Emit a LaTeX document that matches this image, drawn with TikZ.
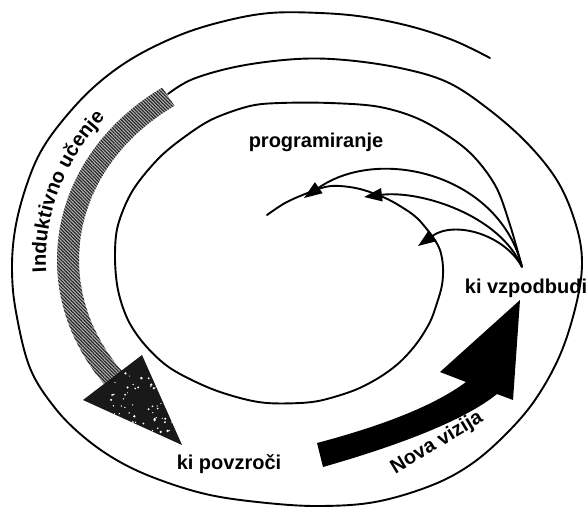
\documentclass[tikz,border=0pt]{standalone}
\usepackage{fontspec}
\newfontfamily\lab{Liberation Sans}
\usetikzlibrary{arrows.meta,patterns.meta,decorations.text}

\begin{document}
\begin{tikzpicture}[x=1pt,y=-1pt,
  ring/.style={line width=1.9pt, line cap=round, line join=round},
  txt/.style={font={\lab\bfseries\fontsize{20}{24}\selectfont}, inner sep=0pt},
  feed/.style={line width=1.9pt, -{Triangle[length=18pt,width=13pt]}},
]
\useasboundingbox (0,0) rectangle (588,511);
\fill[white] (0,0) rectangle (588,511);

% outer spiral: one and a quarter turns, ending where the hatched band begins
\draw[ring] plot[smooth, tension=0.6] coordinates {
  (490,58) (455,41) (413,27) (365,17) (320,13) (270,13) (225,21) (180,35)
  (133,58) (95,86) (63,120) (40,153) (25,190) (15,230) (12,270) (16,312)
  (30,368) (55,408) (85,438) (120,462) (160,480) (210,495) (267,503)
  (320,506) (375,502) (430,486) (470,465) (505,435) (535,400) (560,355)
  (576,305) (582,263) (576,225) (558,182) (527,143) (487,108) (447,82)
  (400,68) (345,60) (297,59) (240,66) (193,79) (168,94)};

% hatched band (inductive learning)
\path[preaction={fill=gray!55}, pattern={Lines[angle=-45,distance=2.4pt,line width=1.2pt]}, pattern color=black!85]
  plot[domain=0:1, samples=50, variable=\s] ({296+239*cos(124+96*\s)},{260-208*sin(124+96*\s)})
  -- plot[domain=0:1, samples=50, variable=\s] ({296+217*cos(220-96*\s)},{260-186*sin(220-96*\s)})
  -- cycle;

% speckled head of the hatched band
\fill[black!90] (83,400) -- (142,355) -- (182,445) -- cycle;
\begin{scope}
  \clip (83,400) -- (142,355) -- (182,445) -- cycle;
  \pgfmathsetseed{11}
  \foreach \i in {1,...,80}{
    \pgfmathsetmacro\px{110+75*rnd}
    \pgfmathsetmacro\py{370+75*rnd}
    \pgfmathsetmacro\pr{0.5+0.9*rnd}
    \fill[white] (\px,\py) circle[radius=\pr];
  }
\end{scope}

% solid arrow (new vision)
\fill[black] (317,443) .. controls (385,425) and (435,405) .. (466,382)
  -- (440,372) -- (520,300) -- (513,400) -- (497,394)
  .. controls (465,420) and (400,445) .. (323,467) -- cycle;

% inner spiral, starting at the hub
\coordinate (hub) at (522,267);
\draw[ring] plot[smooth, tension=0.55] coordinates {
  (hub) (510,225) (495,185) (467,150) (423,121) (380,107) (330,103)
  (280,103) (250,106) (215,118) (190,133) (160,157) (133,190) (118,225)
  (115,257) (118,290) (128,320) (145,345) (170,368) (207,387) (240,398)
  (267,403) (300,403) (323,400) (355,390) (380,377) (400,362) (417,343)
  (430,322) (437,303) (442,285) (443,267) (440,250) (432,236) (417,218)
  (400,206) (383,197) (360,189) (340,186) (325,187) (305,194) (285,203)
  (267,215)};

% feedback arrows from the hub onto the inner spiral
\coordinate (tipA) at (304,198);
\coordinate (tipB) at (364,197);
\coordinate (tipC) at (418,246);
\draw[feed] (hub) .. controls (500,175) and (380,145) .. (tipA);
\draw[feed] (hub) .. controls (500,215) and (420,190) .. (tipB);
\draw[feed] (hub) .. controls (505,235) and (455,220) .. (tipC);

% labels
\node[txt, anchor=base] (prog) at (316,147) {programiranje};
\node[txt, anchor=base] (stim) at (526,293) {ki vzpodbudi};
\node[txt, anchor=base] (cause) at (229,469) {ki povzroči};
\node[txt, rotate=31] (vision) at (437,443) {Nova vizija};
\path[decorate, decoration={text along path, text align=center,
    text={|\lab\bfseries\fontsize{20}{24}\selectfont|Induktivno učenje}}]
  plot[domain=0:1, samples=60, variable=\s] ({296+250*cos(185-47*\s)},{260-220*sin(185-47*\s)});
\end{tikzpicture}
\end{document}
